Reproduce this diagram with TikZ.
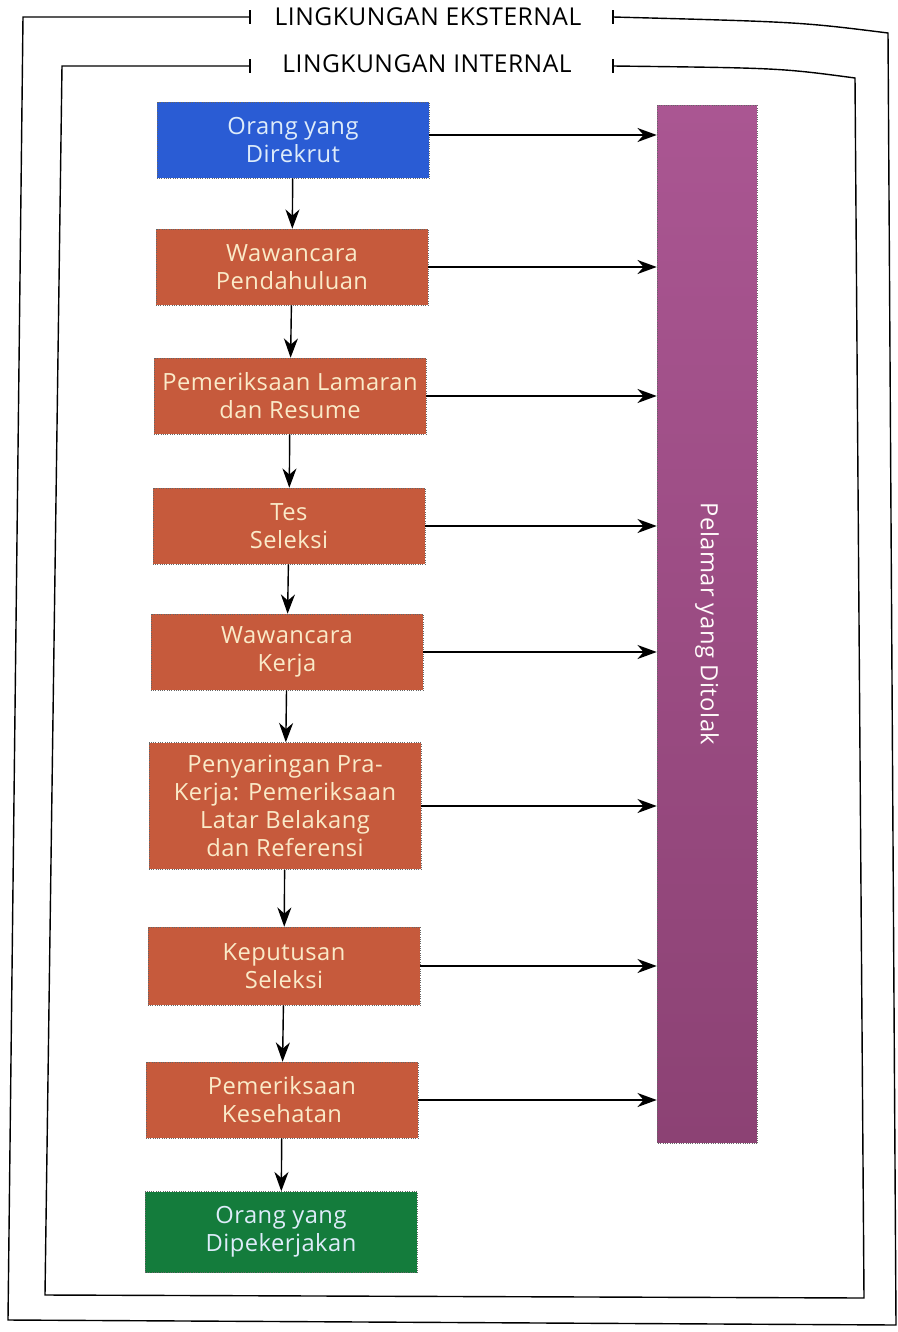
\documentclass[tikz,border=0pt]{standalone}
\usepackage{fontspec}
\setmainfont{Open Sans}[LetterSpace=2]
\usetikzlibrary{arrows.meta}
\definecolor{rekrutblue}{RGB}{42,92,212}
\definecolor{tahapred}{RGB}{198,90,60}
\definecolor{kerjagreen}{RGB}{20,124,60}
\definecolor{tolaktop}{RGB}{170,86,146}
\definecolor{tolakbot}{RGB}{140,66,116}
\definecolor{creamtext}{RGB}{250,234,200}
\definecolor{paletext}{RGB}{222,236,250}
\tikzstyle{tahap}=[rectangle,draw=black!60,densely dotted,line width=0.3pt,fill=tahapred,text=creamtext,align=center,minimum width=5.45cm,minimum height=1.52cm,inner sep=2pt,font=\fontsize{13.5}{16}\selectfont]
\tikzstyle{tolakbar}=[rectangle,draw=black!60,densely dotted,line width=0.3pt,top color=tolaktop,bottom color=tolakbot,text=white!92!pink,rotate=-90,minimum width=20.76cm,minimum height=2cm,font=\fontsize{13.5}{16}\selectfont]
\tikzstyle{envlabel}=[inner sep=0pt,font=\fontsize{14}{16}\selectfont]
\tikzstyle{frame}=[line width=0.8pt]
\tikzstyle{arr}=[line width=0.8pt,-{Stealth[length=11pt,width=8pt,inset=3.5pt]}]

\begin{document}
\begin{tikzpicture}[x=0.02cm,y=-0.02cm]
\useasboundingbox (0,0) rectangle (898,1332);
% lingkungan eksternal dan internal
\node[envlabel] (eks) at (428,17) {LINGKUNGAN EKSTERNAL};
\node[envlabel] (int) at (427,64) {LINGKUNGAN INTERNAL};
\coordinate (eksTL) at (23,17); \coordinate (eksBL) at (8,1320); \coordinate (eksBR) at (896,1325); \coordinate (eksTR) at (888,33);
\coordinate (intTL) at (62,66); \coordinate (intBL) at (45,1295); \coordinate (intBR) at (864,1298); \coordinate (intTR) at (855,78);
\draw[frame] (250,17) -- (eksTL) -- (eksBL) -- (eksBR) -- (eksTR) .. controls (800,22) .. (613,17);
\draw[frame] (250,10) -- (250,24); \draw[frame] (613,10) -- (613,24);
\draw[frame] (250,66) -- (intTL) -- (intBL) -- (intBR) -- (intTR) .. controls (780,68) .. (613,66);
\draw[frame] (250,59) -- (250,73); \draw[frame] (613,59) -- (613,73);
% tahapan seleksi
\node[tahap,fill=rekrutblue,text=paletext] (rekrut) at (293,140) {Orang yang\\Direkrut};
\node[tahap] (wpend) at (292,267) {Wawancara\\Pendahuluan};
\node[tahap] (lamaran) at (290,396) {Pemeriksaan Lamaran\\dan Resume};
\node[tahap] (tes) at (289,526) {Tes\\Seleksi};
\node[tahap] (wkerja) at (287,652) {Wawancara\\Kerja};
\node[tahap,minimum height=2.54cm] (saring) at (285,806) {Penyaringan Pra-\\Kerja: Pemeriksaan\\Latar Belakang\\dan Referensi};
\node[tahap,minimum height=1.56cm] (putus) at (284,966) {Keputusan\\Seleksi};
\node[tahap] (sehat) at (282,1100) {Pemeriksaan\\Kesehatan};
\node[tahap,fill=kerjagreen,text=paletext,minimum height=1.62cm] (dikerja) at (281,1232) {Orang yang\\Dipekerjakan};
\node[tolakbar] (tolak) at (707,624) {Pelamar yang Ditolak};
% panah
\draw[arr] (rekrut) -- (wpend);
\draw[arr] (wpend) -- (lamaran);
\draw[arr] (lamaran) -- (tes);
\draw[arr] (tes) -- (wkerja);
\draw[arr] (wkerja) -- (saring);
\draw[arr] (saring) -- (putus);
\draw[arr] (putus) -- (sehat);
\draw[arr] (sehat) -- (dikerja);
\draw[arr] ([yshift=0.1cm]rekrut.east) -- ([yshift=0.1cm]rekrut.east -| tolak.south);
\draw[arr] (wpend.east) -- (wpend.east -| tolak.south);
\draw[arr] (lamaran.east) -- (lamaran.east -| tolak.south);
\draw[arr] (tes.east) -- (tes.east -| tolak.south);
\draw[arr] (wkerja.east) -- (wkerja.east -| tolak.south);
\draw[arr] (saring.east) -- (saring.east -| tolak.south);
\draw[arr] (putus.east) -- (putus.east -| tolak.south);
\draw[arr] (sehat.east) -- (sehat.east -| tolak.south);
\end{tikzpicture}
\end{document}
